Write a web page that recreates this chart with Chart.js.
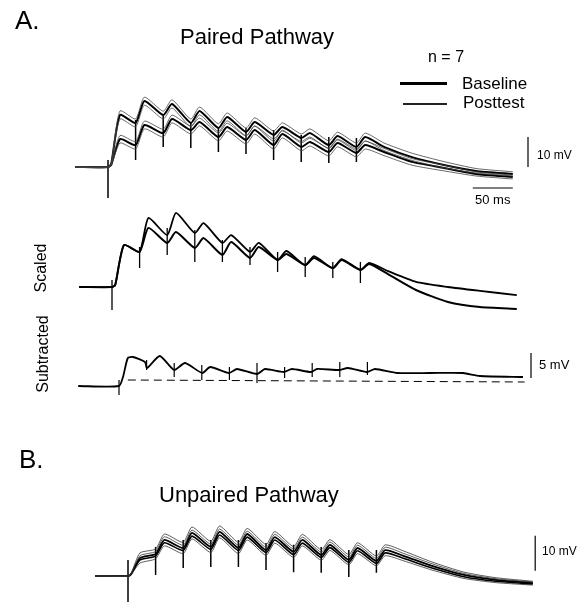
<!DOCTYPE html>
<html>
<head>
<meta charset="utf-8">
<script src="https://cdn.jsdelivr.net/npm/chart.js@4"></script>
<style>
  body { margin: 0; background: #fff; }
  #wrap { position: relative; width: 581px; height: 602px; font-family: "Liberation Sans", Arial, sans-serif; color: #000; }
  #wrap canvas { position: absolute; left: 0; top: 0; }
  .t { position: absolute; line-height: 1; white-space: nowrap; }
  .rot { transform: translate(-50%, -50%) rotate(-90deg); }
  .ln { position: absolute; background: #000; }
</style>
</head>
<body>
<div id="wrap">
  <canvas id="traces" width="581" height="602"></canvas>

  <div class="t" style="left:15px;top:7px;font-size:26px">A.</div>
  <div class="t" style="left:180px;top:26px;font-size:22px">Paired Pathway</div>
  <div class="t" style="left:428px;top:49px;font-size:16px">n = 7</div>
  <div class="ln" style="left:400px;top:82px;width:47px;height:3px"></div>
  <div class="t" style="left:462px;top:75px;font-size:17px">Baseline</div>
  <div class="ln" style="left:403px;top:103px;width:44px;height:2px;background:#222"></div>
  <div class="t" style="left:463px;top:94px;font-size:17px">Posttest</div>
  <div class="t" style="left:537px;top:149px;font-size:12px">10 mV</div>
  <div class="t" style="left:475px;top:193px;font-size:13px">50 ms</div>

  <div class="t rot" style="left:41px;top:268px;font-size:16px">Scaled</div>
  <div class="t rot" style="left:43px;top:354px;font-size:16px">Subtracted</div>
  <div class="t" style="left:539px;top:358px;font-size:13px">5 mV</div>

  <div class="t" style="left:19px;top:446px;font-size:26px">B.</div>
  <div class="t" style="left:159px;top:484px;font-size:22px">Unpaired Pathway</div>
  <div class="t" style="left:542px;top:545px;font-size:12px">10 mV</div>
</div>

<script>
// time base (ms from first stimulus) shared by panel A, scaled trace and panel B
const timeMs = [-41, 0, 4, 15, 34.5, 45.5, 69, 80, 103.5, 114.5, 138, 149, 172.5, 183.5,
  207, 218, 241.5, 252.5, 276, 287, 310.5, 321.5, 345, 380, 420, 460, 506];
const pulseMs = [0, 34.5, 69, 103.5, 138, 172.5, 207, 241.5, 276, 310.5];

// A. paired pathway (mV)
const posttest   = [0, 0, 1, 17.3, 14.7, 22, 17.3, 21, 14.7, 18.7, 13, 16.7, 11.7, 15, 10.7, 13.3, 9.7, 11.3, 7.3, 10.3, 6.7, 10, 6.7, 3.3, 0.7, -1.3, -2.3];
const posttestHi = [0, 0, 1.2, 18.7, 16, 23.3, 18.6, 22.4, 16, 20, 14.4, 18, 13, 16.4, 12, 14.7, 11, 12.7, 8.7, 11.6, 8, 11.3, 8, 4.6, 1.8, -0.5, -1.6];
const posttestLo = [0, 0, 0.8, 16, 13.4, 20.6, 16, 19.7, 13.4, 17.4, 11.8, 15.4, 10.4, 13.7, 9.4, 12, 8.5, 10, 6.1, 9, 5.5, 8.7, 5.5, 2.2, -0.3, -2, -3];
const baseline   = [0, 0, 0.7, 9.3, 7.3, 14, 11.3, 16, 12.3, 15, 10, 13.3, 9, 12.3, 7.3, 11, 6.7, 8.3, 5, 8, 4.7, 7.3, 5, 1.7, -0.3, -2.3, -3.3];
const baselineHi = [0, 0, 0.9, 10.5, 8.5, 15.3, 12.6, 17.3, 13.6, 16.3, 11.3, 14.6, 10.3, 13.6, 8.6, 12.3, 8, 9.6, 6.3, 9.3, 6, 8.6, 6.2, 2.8, 0.6, -1.6, -2.7];
const baselineLo = [0, 0, 0.5, 8, 6, 12.7, 10, 14.7, 11, 13.7, 8.7, 12, 7.7, 11, 6, 9.7, 5.4, 7, 3.7, 6.7, 3.4, 6, 3.8, 0.6, -1.3, -3, -4];
const artifactTopA = [2.3, 15.7, 17.3, 14.7, 13.3, 13, 12.3, 10.7, 10, 9.7];
const artifactBotA = [-10.3, 2.3, 6.7, 6.3, 5, 4.3, 2.3, 1.7, 1.3, 1.7];

// scaled traces
const scaledPost = [0, 0, 0.7, 14, 11.7, 23, 17.3, 24.7, 18, 21.3, 14.7, 17.3, 11.7, 14.7, 9, 12, 7.3, 10.3, 6.3, 9.3, 5.7, 8, 5.3, 1.7, 0, -1.3, -2.7];
const scaledBase = [0, 0, 0.7, 14, 11.7, 19.7, 14.7, 18.3, 13, 16.3, 10.7, 15, 9.7, 13.3, 9, 11, 7.3, 9.7, 6.3, 9, 5.7, 7.7, 4.3, -1, -5, -6.7, -7.3];
const artifactTopS = [2.3, 13.3, 19.7, 19, 15.7, 13.3, 11.7, 10, 8.3, 8.3];
const artifactBotS = [-7.7, 6.3, 10.7, 8.3, 8.3, 7.3, 5, 3.3, 3, 1.3];

// subtracted trace
const timeSubMs = [-51, 0, 5, 11, 17.5, 32.5, 35, 51, 69, 82.5, 104, 114, 137.5, 147.5, 172.5, 182.5,
  206, 216, 240, 247.5, 275, 286, 310, 320, 348, 389, 430, 451, 505];
const subtracted = [0, 0, 1.8, 5.6, 5.8, 4.8, 3.6, 6, 3.2, 4.6, 2.6, 3.8, 2.6, 3.4, 2.4, 3.4,
  2.8, 3.4, 2.8, 3.4, 3.2, 3.6, 2.8, 3.4, 2.6, 2.6, 2.6, 2, 1.8];
const artifactTopD = [1.2, 5.2, 4.6, 4.2, 3.8, 4.6, 3.8, 4.6, 4.8, 4.8];
const artifactBotD = [-1.8, 3.2, 1.8, 1.2, 1.2, 0.6, 1.6, 1.8, 1.8, 2.2];
const zeroLineMs = [11, 507];
const zeroLineMv = [1.2, 0.8];

// B. unpaired pathway
const unpaired1   = [0, 0, 0.6, 5.1, 6.3, 10.3, 8, 12.3, 8.3, 12.6, 8, 12, 7.4, 11.1, 6.9, 10.3, 6, 8.9, 4.6, 8, 4.3, 7.4, 5.7, 2.9, 0.3, -1.1, -2];
const unpaired2   = [0, 0, 0.5, 4.6, 5.7, 9.5, 7.3, 11.4, 7.6, 11.7, 7.3, 11.1, 6.7, 10.3, 6.1, 9.4, 5.3, 8.1, 3.9, 7.2, 3.6, 6.6, 5, 2.3, -0.2, -1.5, -2.3];
const unpairedHi  = [0, 0, 0.8, 6.6, 7.7, 12, 9.6, 14, 9.9, 14.3, 9.6, 13.6, 9, 12.7, 8.4, 11.9, 7.5, 10.4, 6.1, 9.5, 5.7, 8.9, 7.1, 4, 1.1, -0.5, -1.5];
const unpairedMid = [0, 0, 0.7, 5.8, 7, 11.2, 8.8, 13.1, 9.1, 13.4, 8.8, 12.8, 8.2, 11.9, 7.7, 11.1, 6.8, 9.7, 5.4, 8.8, 5, 8.2, 6.4, 3.5, 0.7, -0.8, -1.7];
const unpairedLo  = [0, 0, 0.4, 3.7, 4.9, 8.6, 6.4, 10.6, 6.7, 10.9, 6.4, 10.3, 5.9, 9.4, 5.3, 8.6, 4.5, 7.3, 3.2, 6.4, 2.9, 5.8, 4.3, 1.7, -0.7, -1.9, -2.6];
const artifactTopB = [4.6, 8.3, 10.3, 10.3, 10.3, 9.4, 8.9, 8.3, 7.4, 7.4];
const artifactBotB = [-7.4, 0.3, 2.3, 2.6, 2.6, 1.7, 1.1, 0.9, -0.3, 0.9];

// scale bars
const barA_ms = [525, 525], barA_mv = [0, 10];
const barTime_ms = [456, 506], barTime_mv = [-7, -7];
const barD_ms = [515, 515], barD_mv = [1.6, 6.6];
const barB_ms = [509, 509], barB_mv = [1.5, 11.5];

// layout of the panels on the page (px per ms is shared)
const W = 581, H = 602, pxPerMs = 0.8;
const panels = {
  A: { x0: 108, y0: 167, pxPerMv: 3 },
  S: { x0: 112, y0: 287, pxPerMv: 3 },
  D: { x0: 119, y0: 386, pxPerMv: 5 },
  B: { x0: 128, y0: 576, pxPerMv: 3.5 }
};

function pts(ts, vs) {
  return ts.map((t, i) => ({ x: t, y: vs[i] }));
}
function artifacts(top, bot) {
  let out = [];
  pulseMs.forEach((t, i) => {
    out.push({ x: t, y: top[i] }, { x: t, y: bot[i] }, { x: t, y: null });
  });
  return out;
}
function trace(panel, data, width, color) {
  return {
    data: data,
    xAxisID: 'x' + panel, yAxisID: 'y' + panel,
    borderColor: color || '#000',
    borderWidth: width,
    tension: 0.2,
    pointRadius: 0
  };
}
function straight(panel, data, width, dash) {
  return {
    data: data,
    xAxisID: 'x' + panel, yAxisID: 'y' + panel,
    borderColor: '#000',
    borderWidth: width,
    borderDash: dash || [],
    tension: 0,
    pointRadius: 0
  };
}

let scales = {};
Object.keys(panels).forEach(k => {
  const p = panels[k];
  scales['x' + k] = { type: 'linear', display: false, min: -p.x0 / pxPerMs, max: (W - p.x0) / pxPerMs };
  scales['y' + k] = { type: 'linear', display: false, min: (p.y0 - H) / p.pxPerMv, max: p.y0 / p.pxPerMv };
});

const datasets = [
  trace('A', pts(timeMs, posttestHi), 0.8, '#444'),
  trace('A', pts(timeMs, posttestLo), 0.8, '#444'),
  trace('A', pts(timeMs, baselineHi), 0.8, '#444'),
  trace('A', pts(timeMs, baselineLo), 0.8, '#444'),
  trace('A', pts(timeMs, posttest), 2),
  trace('A', pts(timeMs, baseline), 2),
  straight('A', artifacts(artifactTopA, artifactBotA), 1.5),
  straight('A', pts(barA_ms, barA_mv), 1.2),
  straight('A', pts(barTime_ms, barTime_mv), 1.2),

  trace('S', pts(timeMs, scaledPost), 1.8),
  trace('S', pts(timeMs, scaledBase), 2),
  straight('S', artifacts(artifactTopS, artifactBotS), 1.3),

  trace('D', pts(timeSubMs, subtracted), 1.8),
  straight('D', artifacts(artifactTopD, artifactBotD), 1.2),
  straight('D', pts(zeroLineMs, zeroLineMv), 1, [8, 5]),
  straight('D', pts(barD_ms, barD_mv), 1.2),

  trace('B', pts(timeMs, unpairedHi), 0.8, '#333'),
  trace('B', pts(timeMs, unpairedMid), 0.8, '#333'),
  trace('B', pts(timeMs, unpairedLo), 0.8, '#333'),
  trace('B', pts(timeMs, unpaired2), 1.6),
  trace('B', pts(timeMs, unpaired1), 1.8),
  straight('B', artifacts(artifactTopB, artifactBotB), 1.5),
  straight('B', pts(barB_ms, barB_mv), 1.2)
];

new Chart(document.getElementById('traces').getContext('2d'), {
  type: 'line',
  data: { datasets: datasets },
  options: {
    responsive: false,
    animation: false,
    devicePixelRatio: 1,
    layout: { padding: 0 },
    plugins: { legend: { display: false }, tooltip: { enabled: false } },
    elements: { point: { radius: 0 } },
    scales: scales
  }
});
</script>
</body>
</html>
